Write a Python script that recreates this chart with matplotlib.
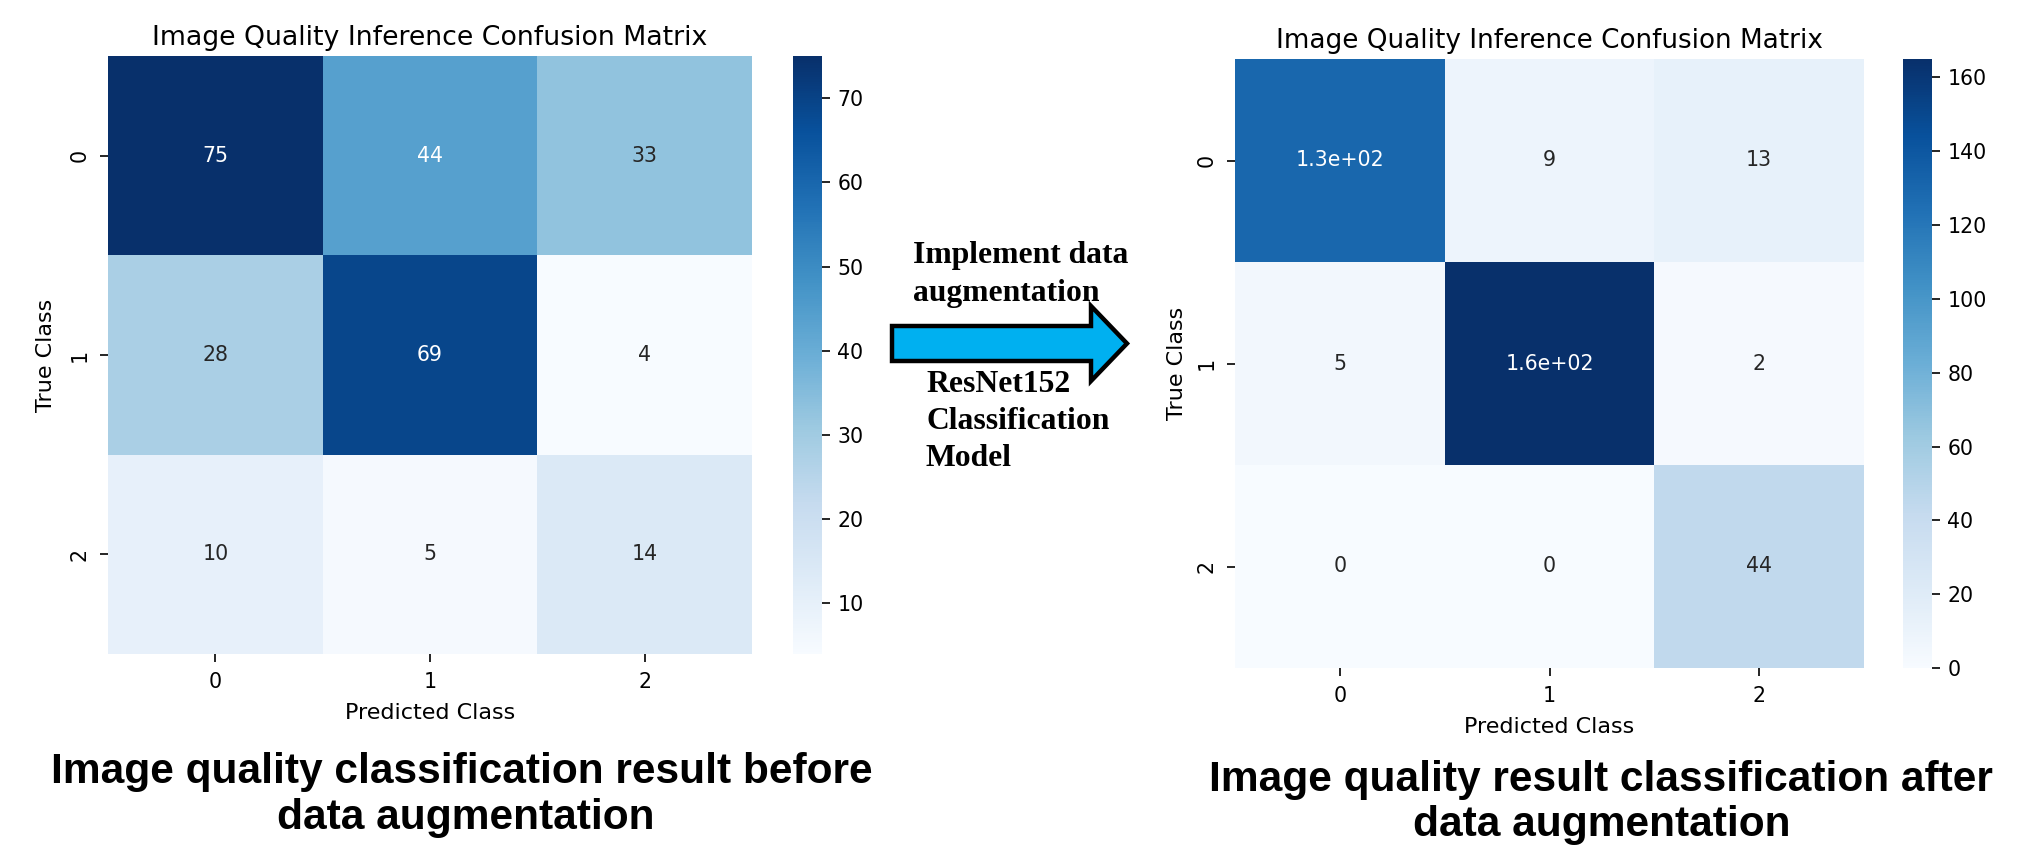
import matplotlib
matplotlib.use("Agg")
import matplotlib.pyplot as plt
import numpy as np
import seaborn as sns
from matplotlib.patches import Polygon

# ---- data ----
classes = ["0", "1", "2"]
cm_before = [[75, 44, 33],
             [28, 69, 4],
             [10, 5, 14]]
cm_after = [[130, 9, 13],
            [5, 165, 2],
            [0, 0, 44]]
title_text = "Image Quality Inference Confusion Matrix"
caption_before = ["Image quality classification result before", "data augmentation"]
caption_after = ["Image quality result classification after", "data augmentation"]
arrow_top = ["Implement data", "augmentation"]
arrow_bottom = ["ResNet152", "Classification", "Model"]

W, H = 2027, 850
fig = plt.figure(figsize=(W / 100, H / 100), dpi=100)
plt.rcParams['font.family'] = ['DejaVu Sans']


def fx(x):
    return x / W


def fy(y):
    return 1 - y / H


def draw_cm(data, box, cbox, tsize, ylpad):
    x0, y0, x1, y1 = box
    ax = fig.add_axes([fx(x0), fy(y1), fx(x1 - x0), (y1 - y0) / H])
    cx0, cx1 = cbox
    cax = fig.add_axes([fx(cx0), fy(y1), fx(cx1 - cx0), (y1 - y0) / H])
    sns.heatmap(np.array(data), annot=True, cmap="Blues", ax=ax, cbar_ax=cax,
                xticklabels=classes, yticklabels=classes,
                annot_kws={"fontsize": 14.8})
    ax.set_title(title_text, fontsize=tsize, pad=8)
    ax.tick_params(labelsize=14.8, length=6, width=1.2, pad=7)
    ax.set_xlabel("Predicted Class", fontsize=16, labelpad=8)
    ax.set_ylabel("True Class", fontsize=16, labelpad=ylpad)
    cax.tick_params(labelsize=14.8, length=6, width=1.2, pad=5)
    for sp in cax.spines.values():
        sp.set_visible(False)
    return ax


draw_cm(cm_before, (108, 56, 752, 654), (793, 822), 19.3, 10)
draw_cm(cm_after, (1235, 59, 1864, 668), (1903, 1932), 18.9, 7)

# ---- captions ----
cap_font = dict(family="Liberation Sans", weight="bold", fontsize=30.6,
                ha="center", va="center")
fig.text(fx(462), fy(772), caption_before[0], **cap_font)
fig.text(fx(466), fy(818), caption_before[1], **cap_font)
fig.text(fx(1601), fy(780), caption_after[0], **cap_font)
fig.text(fx(1602), fy(825), caption_after[1], **cap_font)

# ---- arrow ----
ov = fig.add_axes([0, 0, 1, 1], zorder=-1)
ov.set_xlim(0, W)
ov.set_ylim(H, 0)
ov.axis("off")
body_l, body_r, tip = 892, 1091, 1127
by0, by1, hy0, hy1 = 326, 361, 306, 381
ym = (by0 + by1) / 2
arrow = Polygon([(body_l, by0), (body_r, by0), (body_r, hy0), (tip, ym),
                 (body_r, hy1), (body_r, by1), (body_l, by1)],
                closed=True, facecolor="#00b0f0", edgecolor="black",
                linewidth=3.2, joinstyle="miter")
ov.add_patch(arrow)

txt_font = dict(family="Liberation Serif", weight="bold", fontsize=22.8,
                ha="left", va="center")
fig.text(fx(913), fy(255), arrow_top[0], **txt_font)
fig.text(fx(913), fy(293), arrow_top[1], **txt_font)
fig.text(fx(926), fy(385), arrow_bottom[0], **txt_font)
fig.text(fx(926), fy(421), arrow_bottom[1], **txt_font)
fig.text(fx(926), fy(458), arrow_bottom[2], **txt_font)

fig.savefig("out.png", dpi=100)
